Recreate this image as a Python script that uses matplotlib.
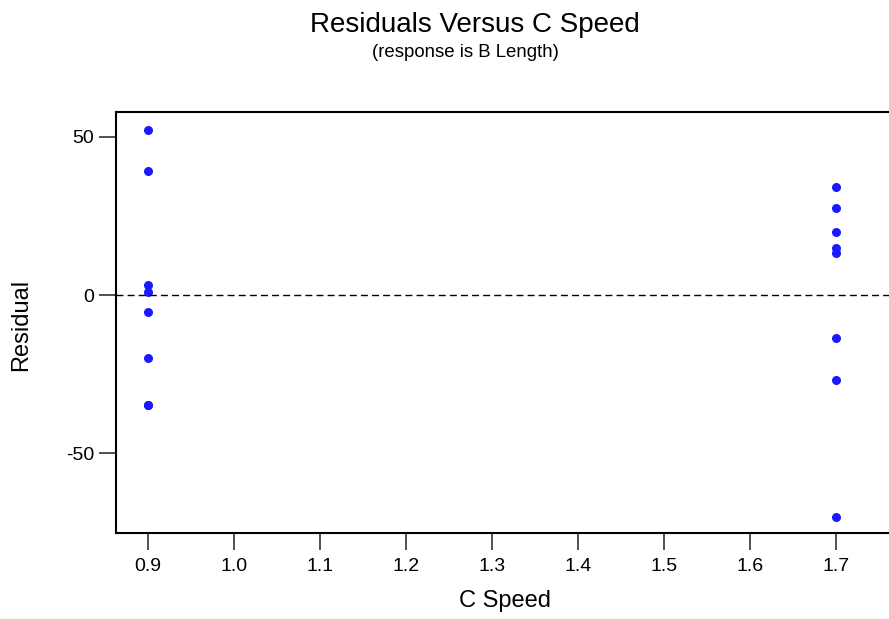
import matplotlib
matplotlib.use('Agg')

import matplotlib.pyplot as plt

plt.rcParams['font.family'] = ['Liberation Sans', 'DejaVu Sans']
plt.rcParams['axes.unicode_minus'] = False

# residuals, two speed levels
speed_low = 0.9
resid_low = [52.2, 39.3, 3.2, 1.0, -5.3, -19.9, -34.8, -34.8]
speed_high = 1.7
resid_high = [34.3, 27.4, 20.0, 14.8, 13.2, -13.7, -26.9, -70.2]

x_ticks = [0.9, 1.0, 1.1, 1.2, 1.3, 1.4, 1.5, 1.6, 1.7]
y_ticks = [-50, 0, 50]

W, H = 889, 619
fig = plt.figure(figsize=(W/100, H/100), dpi=100)
ax = fig.add_axes([116/W, 86/H, 1 - 116/W, 421/H])

xs = [speed_low]*len(resid_low) + [speed_high]*len(resid_high)
ys = resid_low + resid_high
ax.plot(xs, ys, 'o', color='#1a1aff', markersize=6.5, markeredgewidth=0)

ax.axhline(0, color='black', lw=1, ls=(0, (5, 3)))

ax.set_xlim(0.8628, 1.7616)
ax.set_ylim(-75.3, 57.9)
ax.set_xticks(x_ticks)
ax.set_xticklabels([f'{v:.1f}' for v in x_ticks])
ax.set_yticks(y_ticks)
ax.tick_params(direction='out', length=12, width=1.2, color='#333333',
               labelsize=14)
ax.tick_params(axis='x', pad=6)
ax.tick_params(axis='y', pad=3.5)

for s in ['left', 'top', 'bottom']:
    ax.spines[s].set_linewidth(1.5)
ax.spines['right'].set_visible(False)

# axis titles and headings placed in pixels from the top
fig.text(505/W, 1 - 607/H, 'C Speed', fontsize=17, ha='center', va='baseline')
fig.text(21/W, 1 - 325/H, 'Residual', fontsize=17, rotation=90,
         ha='center', va='center')
fig.text(475/W, 1 - 32/H, 'Residuals Versus C Speed', fontsize=20,
         ha='center', va='baseline')
fig.text(465/W, 1 - 57/H, '(response is B Length)', fontsize=13.4,
         ha='center', va='baseline')

fig.savefig('out.png', dpi=100)
